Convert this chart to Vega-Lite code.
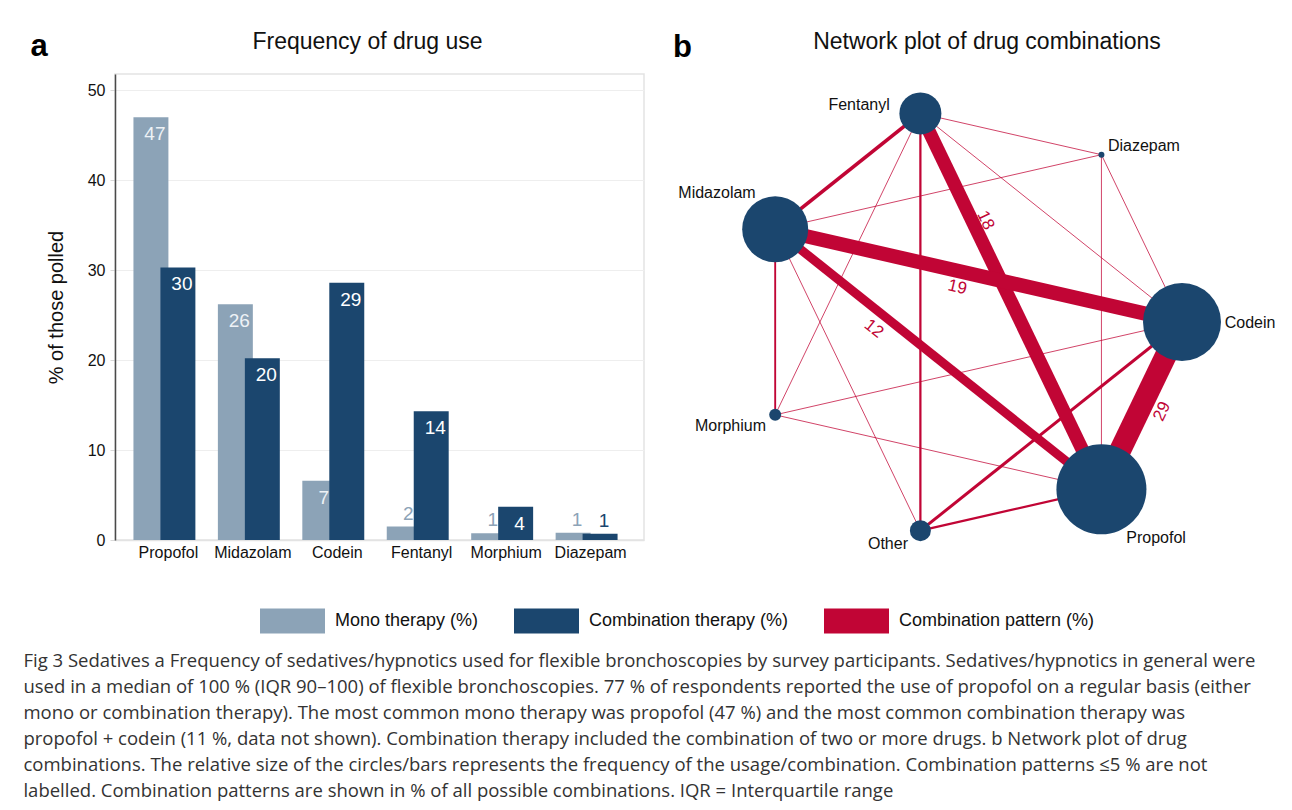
{
  "$schema": "https://vega.github.io/schema/vega-lite/v6.json",
  "background": "white",
  "padding": {"left": 23, "top": 30, "right": 0, "bottom": 0},
  "datasets": {
    "bars": [
      {"drug": "Propofol", "series": "Mono therapy (%)", "value": 47.0},
      {"drug": "Midazolam", "series": "Mono therapy (%)", "value": 26.2},
      {"drug": "Codein", "series": "Mono therapy (%)", "value": 6.6},
      {"drug": "Fentanyl", "series": "Mono therapy (%)", "value": 1.5},
      {"drug": "Morphium", "series": "Mono therapy (%)", "value": 0.75},
      {"drug": "Diazepam", "series": "Mono therapy (%)", "value": 0.8},
      {"drug": "Propofol", "series": "Combination therapy (%)", "value": 30.3},
      {"drug": "Midazolam", "series": "Combination therapy (%)", "value": 20.2},
      {"drug": "Codein", "series": "Combination therapy (%)", "value": 28.6},
      {"drug": "Fentanyl", "series": "Combination therapy (%)", "value": 14.3},
      {"drug": "Morphium", "series": "Combination therapy (%)", "value": 3.7},
      {"drug": "Diazepam", "series": "Combination therapy (%)", "value": 0.7}
    ],
    "nodes": [
      {"drug": "Codein", "x": 1.0, "y": 0.0, "usage": 26, "lx": 1.318, "ly": -0.005},
      {"drug": "Diazepam", "x": 0.6235, "y": 0.7818, "usage": 2, "lx": 0.822, "ly": 0.822},
      {"drug": "Fentanyl", "x": -0.2225, "y": 0.9749, "usage": 14, "lx": -0.509, "ly": 1.015},
      {"drug": "Midazolam", "x": -0.901, "y": 0.4339, "usage": 22, "lx": -1.173, "ly": 0.603},
      {"drug": "Morphium", "x": -0.901, "y": -0.4339, "usage": 4, "lx": -1.11, "ly": -0.486},
      {"drug": "Other", "x": -0.2225, "y": -0.9749, "usage": 7, "lx": -0.374, "ly": -1.037},
      {"drug": "Propofol", "x": 0.6235, "y": -0.7818, "usage": 30, "lx": 0.879, "ly": -1.009}
    ],
    "edges": [
      {"a": "Fentanyl", "b": "Diazepam", "pct": 1},
      {"a": "Fentanyl", "b": "Codein", "pct": 1},
      {"a": "Fentanyl", "b": "Morphium", "pct": 1},
      {"a": "Midazolam", "b": "Diazepam", "pct": 1},
      {"a": "Midazolam", "b": "Other", "pct": 1},
      {"a": "Diazepam", "b": "Codein", "pct": 1},
      {"a": "Diazepam", "b": "Propofol", "pct": 1},
      {"a": "Morphium", "b": "Codein", "pct": 1},
      {"a": "Morphium", "b": "Propofol", "pct": 1},
      {"a": "Midazolam", "b": "Morphium", "pct": 2.5},
      {"a": "Fentanyl", "b": "Other", "pct": 3},
      {"a": "Propofol", "b": "Other", "pct": 3},
      {"a": "Codein", "b": "Other", "pct": 4},
      {"a": "Fentanyl", "b": "Midazolam", "pct": 5},
      {"a": "Midazolam", "b": "Propofol", "pct": 12, "lx": -0.44, "ly": -0.032},
      {"a": "Fentanyl", "b": "Propofol", "pct": 18, "lx": 0.082, "ly": 0.475},
      {"a": "Midazolam", "b": "Codein", "pct": 19, "lx": -0.05, "ly": 0.162},
      {"a": "Codein", "b": "Propofol", "pct": 29, "lx": 0.907, "ly": -0.418}
    ]
  },
  "title": {
    "text": [
      "Fig 3 Sedatives a Frequency of sedatives/hypnotics used for flexible bronchoscopies by survey participants. Sedatives/hypnotics in general were",
      "used in a median of 100 % (IQR 90–100) of flexible bronchoscopies. 77 % of respondents reported the use of propofol on a regular basis (either",
      "mono or combination therapy). The most common mono therapy was propofol (47 %) and the most common combination therapy was",
      "propofol + codein (11 %, data not shown). Combination therapy included the combination of two or more drugs. b Network plot of drug",
      "combinations. The relative size of the circles/bars represents the frequency of the usage/combination. Combination patterns ≤5 % are not",
      "labelled. Combination patterns are shown in % of all possible combinations. IQR = Interquartile range"
    ],
    "orient": "bottom",
    "anchor": "start",
    "frame": "bounds",
    "font": "Open Sans",
    "fontSize": 18.5,
    "fontWeight": "normal",
    "color": "#333333",
    "lineHeight": 26,
    "offset": 18,
    "dx": -7
  },
  "spacing": 16,
  "hconcat": [
    {
      "title": {"text": "a", "anchor": "start", "frame": "bounds", "fontSize": 31, "fontWeight": "bold", "font": "Liberation Sans", "color": "#000000", "offset": -33, "dx": -15},
      "vconcat": [
        {
          "width": 529,
          "height": 466,
          "view": {"stroke": "#e3e3e3", "strokeWidth": 1.5},
          "title": {"text": "Frequency of drug use", "fontSize": 23, "fontWeight": "normal", "font": "Liberation Sans", "color": "#111111", "offset": 20, "dx": -12},
          "data": {"name": "bars"},
          "encoding": {
            "x": {
              "field": "drug", "type": "nominal", "sort": null,
              "scale": {"paddingInner": 0.361, "paddingOuter": 0.313},
              "axis": {"title": null, "labelAngle": 0, "labelFontSize": 16, "labelColor": "#111111", "ticks": false, "domainColor": "#e3e3e3", "domainWidth": 1.5, "labelPadding": 4, "grid": false}
            },
            "xOffset": {
              "field": "series", "type": "nominal", "sort": null,
              "scale": {"domain": ["Mono therapy (%)", "Combination therapy (%)"], "paddingInner": 0, "paddingOuter": 0}
            },
            "y": {
              "field": "value", "type": "quantitative",
              "scale": {"domain": [0, 51.8], "nice": false},
              "axis": {"title": "% of those polled", "titleFontSize": 20, "titleFontWeight": "normal", "titleColor": "#111111", "titlePadding": 21, "values": [0, 10, 20, 30, 40, 50], "labelFontSize": 16, "labelColor": "#111111", "labelPadding": 5, "tickColor": "#d9d9d9", "tickSize": 5, "domainColor": "#4a4a4a", "domainWidth": 1.5, "gridColor": "#eeeeee", "gridWidth": 1.2}
            }
          },
          "layer": [
            {
              "mark": {"type": "bar", "width": {"band": 1.296}},
              "encoding": {
                "color": {
                  "field": "series", "type": "nominal",
                  "scale": {"domain": ["Mono therapy (%)", "Combination therapy (%)", "Combination pattern (%)"], "range": ["#8ca3b7", "#1b466e", "#c10535"]},
                  "legend": {"orient": "none", "legendX": 145, "legendY": 514, "direction": "horizontal", "columns": 3, "title": null, "symbolType": "M-1,-0.385H1V0.385H-1Z", "symbolSize": 4225, "symbolStrokeWidth": 0, "symbolOpacity": 1, "labelFontSize": 18, "labelFont": "Liberation Sans", "labelColor": "#111111", "labelOffset": 10, "columnPadding": 35, "labelLimit": 400}
                }
              }
            },
            {
              "transform": [{"filter": "datum.value >= 3"}],
              "mark": {"type": "text", "baseline": "middle", "dy": 17, "fontSize": 19},
              "encoding": {
                "text": {"field": "value", "type": "quantitative", "format": ".0f"},
                "color": {"condition": {"test": "datum.series === 'Mono therapy (%)'", "value": "#eef2f6"}, "value": "#ffffff"}
              }
            },
            {
              "transform": [{"filter": "datum.value < 3"}],
              "mark": {"type": "text", "baseline": "middle", "dy": -13, "fontSize": 19},
              "encoding": {
                "text": {"field": "value", "type": "quantitative", "format": ".0f"},
                "color": {"condition": {"test": "datum.series === 'Mono therapy (%)'", "value": "#8ca3b7"}, "value": "#1b466e"}
              }
            }
          ]
        }
      ]
    },
    {
      "title": {"text": "b", "anchor": "start", "frame": "bounds", "fontSize": 31, "fontWeight": "bold", "font": "Liberation Sans", "color": "#000000", "offset": -33, "dx": 12},
      "vconcat": [
        {
          "width": 620,
          "height": 466,
          "view": {"stroke": null},
          "title": {"text": "Network plot of drug combinations", "fontSize": 23, "fontWeight": "normal", "font": "Liberation Sans", "color": "#111111", "offset": 20, "dx": 16},
          "layer": [
            {
              "data": {"name": "edges"},
              "transform": [
                {"lookup": "a", "from": {"data": {"name": "nodes"}, "key": "drug", "fields": ["x", "y"]}, "as": ["ax", "ay"]},
                {"lookup": "b", "from": {"data": {"name": "nodes"}, "key": "drug", "fields": ["x", "y"]}, "as": ["bx", "by"]}
              ],
              "mark": {"type": "rule", "color": "#c10535"},
              "encoding": {
                "x": {"field": "ax", "type": "quantitative", "scale": {"domain": [-1.4346, 1.4626], "nice": false, "zero": false}, "axis": null},
                "y": {"field": "ay", "type": "quantitative", "scale": {"domain": [-1.0187, 1.1589], "nice": false, "zero": false}, "axis": null},
                "x2": {"field": "bx"},
                "y2": {"field": "by"},
                "strokeWidth": {"field": "pct", "type": "quantitative", "scale": {"domain": [0, 29], "range": [0, 21.75], "zero": true}, "legend": null}
              }
            },
            {
              "data": {"name": "nodes"},
              "mark": {"type": "circle", "color": "#1b466e", "opacity": 1},
              "encoding": {
                "x": {"field": "x", "type": "quantitative"},
                "y": {"field": "y", "type": "quantitative"},
                "size": {"field": "usage", "type": "quantitative", "scale": {"type": "pow", "exponent": 2, "domain": [0, 30], "range": [0, 8100]}, "legend": null}
              }
            },
            {
              "data": {"name": "nodes"},
              "mark": {"type": "text", "fontSize": 16, "color": "#111111", "baseline": "middle", "align": "center"},
              "encoding": {
                "x": {"field": "lx", "type": "quantitative"},
                "y": {"field": "ly", "type": "quantitative"},
                "text": {"field": "drug", "type": "nominal"}
              }
            },
            {
              "data": {"name": "edges"},
              "transform": [
                {"filter": "datum.pct > 5"},
                {"lookup": "a", "from": {"data": {"name": "nodes"}, "key": "drug", "fields": ["x", "y"]}, "as": ["ax", "ay"]},
                {"lookup": "b", "from": {"data": {"name": "nodes"}, "key": "drug", "fields": ["x", "y"]}, "as": ["bx", "by"]},
                {"calculate": "-atan2(datum.by - datum.ay, datum.bx - datum.ax) * 180 / PI", "as": "deg"},
                {"calculate": "datum.deg > 90 ? datum.deg - 180 : (datum.deg < -90 ? datum.deg + 180 : datum.deg)", "as": "ang"}
              ],
              "mark": {"type": "text", "fontSize": 17, "color": "#c10535", "baseline": "middle", "align": "center"},
              "encoding": {
                "x": {"field": "lx", "type": "quantitative"},
                "y": {"field": "ly", "type": "quantitative"},
                "text": {"field": "pct", "type": "quantitative", "format": ".0f"},
                "angle": {"field": "ang", "type": "quantitative", "scale": null}
              }
            }
          ]
        }
      ]
    }
  ],
  "config": {
    "font": "Liberation Sans",
    "view": {"stroke": null}
  }
}
